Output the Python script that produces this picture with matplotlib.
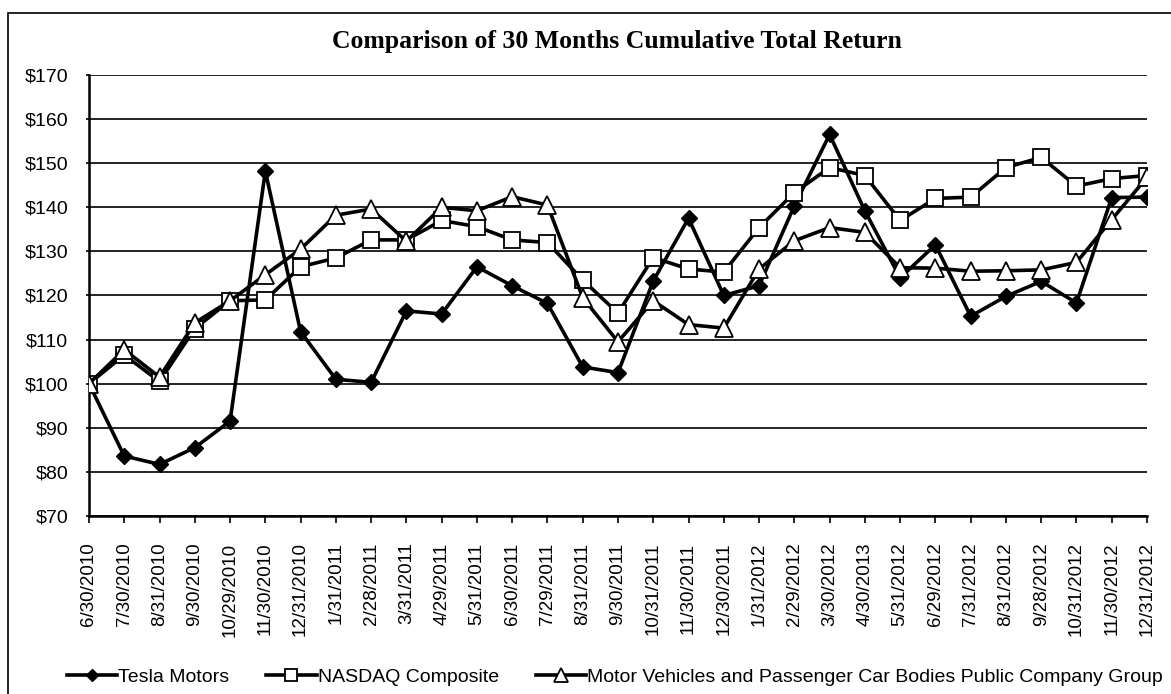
import matplotlib as mpl
mpl.use('Agg')
import matplotlib.pyplot as plt
from matplotlib.patches import Rectangle
from matplotlib.ticker import FuncFormatter

dates = ['6/30/2010', '7/30/2010', '8/31/2010', '9/30/2010', '10/29/2010', '11/30/2010',
         '12/31/2010', '1/31/2011', '2/28/2011', '3/31/2011', '4/29/2011', '5/31/2011',
         '6/30/2011', '7/29/2011', '8/31/2011', '9/30/2011', '10/31/2011', '11/30/2011',
         '12/30/2011', '1/31/2012', '2/29/2012', '3/30/2012', '4/30/2013', '5/31/2012',
         '6/29/2012', '7/31/2012', '8/31/2012', '9/28/2012', '10/31/2012', '11/30/2012',
         '12/31/2012']

tesla = [100, 83.6, 81.7, 85.5, 91.5, 148.2, 111.8, 101, 100.3, 116.5, 115.8, 126.5,
         122.2, 118.2, 103.8, 102.5, 123.3, 137.5, 120, 122.2, 140.3, 156.5, 139.2, 124,
         131.5, 115.3, 119.8, 123.2, 118.3, 142.2, 142.3]

nasdaq = [100, 106.5, 100.5, 112.5, 118.8, 119, 126.5, 128.5, 132.6, 132.6, 137, 135.6,
          132.6, 132, 123.5, 116, 128.6, 126, 125.3, 135.4, 143.3, 149, 147.2, 137,
          142, 142.3, 149, 151.3, 144.8, 146.5, 147.2]

motor = [100, 107.7, 101.5, 113.8, 118.8, 124.7, 130.5, 138.2, 139.6, 132.3, 140, 139.2,
         142.4, 140.5, 119.5, 109.5, 118.8, 113.4, 112.6, 126, 132.4, 135.4, 134.3, 126.3,
         126.2, 125.5, 125.6, 125.8, 127.5, 137.2, 146.8]

series_names = ['Tesla Motors', 'NASDAQ Composite',
                'Motor Vehicles and Passenger Car Bodies Public Company Group']

plt.rcParams['font.family'] = ['Liberation Sans', 'DejaVu Sans']

fig = plt.figure(figsize=(11.71, 6.94), dpi=100)
ax = fig.add_axes([0.076, 0.2565, 0.9035, 0.6355])

x = list(range(len(dates)))
ax.plot(x, tesla, color='black', lw=2.6, marker='D', ms=8.5, mfc='black', mec='black',
        label=series_names[0], zorder=3)
ax.plot(x, nasdaq, color='black', lw=2.6, marker='s', ms=11, mfc='white', mec='black',
        mew=1.3, label=series_names[1], zorder=4)
ax.plot(x, motor, color='black', lw=2.6, marker='^', ms=13, mfc='white', mec='black',
        mew=1.3, label=series_names[2], zorder=5)

ax.set_xlim(0, len(dates) - 1)
ax.set_ylim(70, 170)
ax.set_yticks(range(70, 171, 10))
ax.yaxis.set_major_formatter(FuncFormatter(lambda v, p: '$%d' % v))
ax.set_xticks(x)
ax.set_xticklabels(dates, rotation=90, fontsize=13.5)
ax.tick_params(axis='y', labelsize=14, length=2, width=1.2, pad=13)
ax.tick_params(axis='x', length=5, width=1.2, pad=14)
ax.yaxis.grid(True, color='black', lw=1.2)
ax.set_axisbelow(True)
for s in ['top', 'right']:
    ax.spines[s].set_visible(False)
for s in ['left', 'bottom']:
    ax.spines[s].set_linewidth(1.8)

fig.text(0.527, 0.94, 'Comparison of 30 Months Cumulative Total Return',
         ha='center', va='center', fontsize=18.5, fontweight='bold',
         family=['Liberation Serif', 'DejaVu Serif'])

fig.legend(loc='center', bbox_to_anchor=(0.525, 0.024), ncol=3, frameon=False,
           fontsize=14, handlelength=2.6, handletextpad=0.05, columnspacing=1.9,
           markerscale=0.75)

fig.patches.append(Rectangle((0.007, -0.01), 1.0, 0.991, transform=fig.transFigure,
                             fill=False, ec='black', lw=1.2))

plt.savefig('out.png', dpi=100)
